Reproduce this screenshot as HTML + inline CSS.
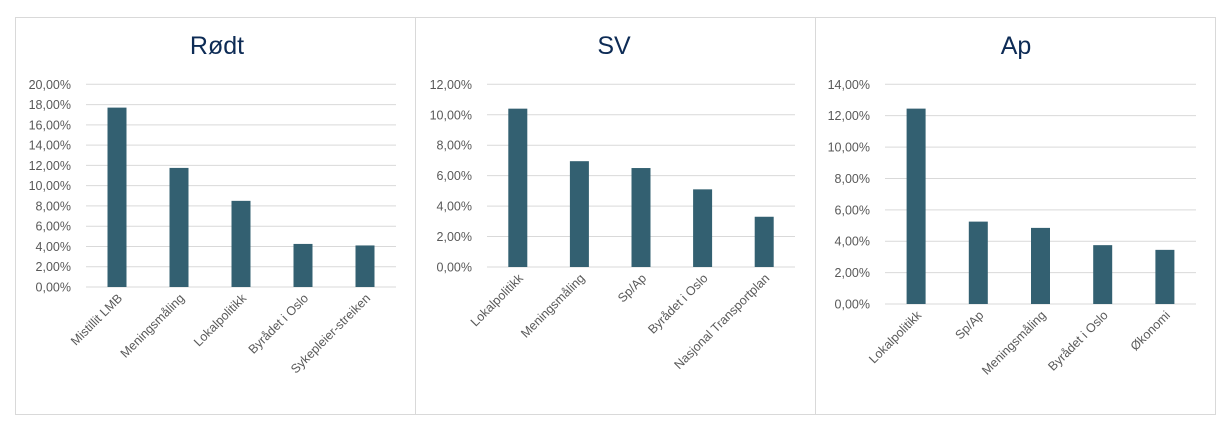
<!DOCTYPE html>
<html><head><meta charset="utf-8"><style>
body{margin:0;background:#fff;}
svg{display:block;font-family:"Liberation Sans",sans-serif;}
</style></head><body>
<svg id="c" width="1231" height="431"></svg>
<script>
const titles=["Rødt","SV","Ap"];
const cats1=["Mistillit LMB","Meningsmåling","Lokalpolitikk","Byrådet i Oslo","Sykepleier-streiken"];
const vals1=[17.7,11.75,8.5,4.25,4.1];
const ticks1=[0,2,4,6,8,10,12,14,16,18,20];
const cats2=["Lokalpolitikk","Meningsmåling","Sp/Ap","Byrådet i Oslo","Nasjonal Transportplan"];
const vals2=[10.4,6.95,6.5,5.1,3.3];
const ticks2=[0,2,4,6,8,10,12];
const cats3=["Lokalpolitikk","Sp/Ap","Meningsmåling","Byrådet i Oslo","Økonomi"];
const vals3=[12.45,5.25,4.85,3.75,3.45];
const ticks3=[0,2,4,6,8,10,12,14];

const NS="http://www.w3.org/2000/svg";
const svg=document.getElementById('c');
function mk(t,a,p){const e=document.createElementNS(NS,t);for(const k in a)e.setAttribute(k,a[k]);(p||svg).appendChild(e);return e;}
const panels=[
 {px:15,x0:86,x1:396,y0:287,yT:84.3,cats:cats1,vals:vals1,ticks:ticks1,tx:217},
 {px:415,x0:487,x1:795,y0:267,yT:84.3,cats:cats2,vals:vals2,ticks:ticks2,tx:614},
 {px:815,x0:885,x1:1196,y0:304,yT:84.3,cats:cats3,vals:vals3,ticks:ticks3,tx:1016}
];
panels.forEach((p,i)=>{
  const g=mk('g',{});
  
  
  const bg=mk('rect',{x:p.px+0.5,y:17.5,width:400,height:397,fill:'#fff',stroke:'#d9d9d9'},g);
  
  
  const t=mk('text',{x:p.tx,y:54,'text-anchor':'middle','font-size':25,fill:'#0d2b55'},g);
  t.textContent=titles[i];
  
  
  const max=p.ticks[p.ticks.length-1];
  const ys=v=>p.y0-(v/max)*(p.y0-p.yT);
  p.ticks.forEach(tv=>{
    const y=ys(tv);
    const l=mk('line',{x1:p.x0,x2:p.x1,y1:y,y2:y,stroke:'#d9d9d9','stroke-width':1},g);
    
    
    const tl=mk('text',{x:p.x0-15,y:y+4.5,'text-anchor':'end','font-size':12.5,fill:'#595959'},g);
    tl.textContent=tv.toFixed(2).replace('.',',')+'%';
    
    
  });
  const step=(p.x1-p.x0)/p.cats.length;
  p.cats.forEach((c,j)=>{
    const cx=p.x0+step*(j+0.5);
    const y=ys(p.vals[j]);
    const b=mk('rect',{x:cx-9.5,y:y,width:19,height:p.y0-y,fill:'#336071'},g);
    
    
    const lb=mk('text',{x:0,y:0,'text-anchor':'end','font-size':12.5,fill:'#595959',transform:`translate(${cx+6},${p.y0+12}) rotate(-45)`},g);
    lb.textContent=c;
    
    
  });
});
</script>
</body></html>
